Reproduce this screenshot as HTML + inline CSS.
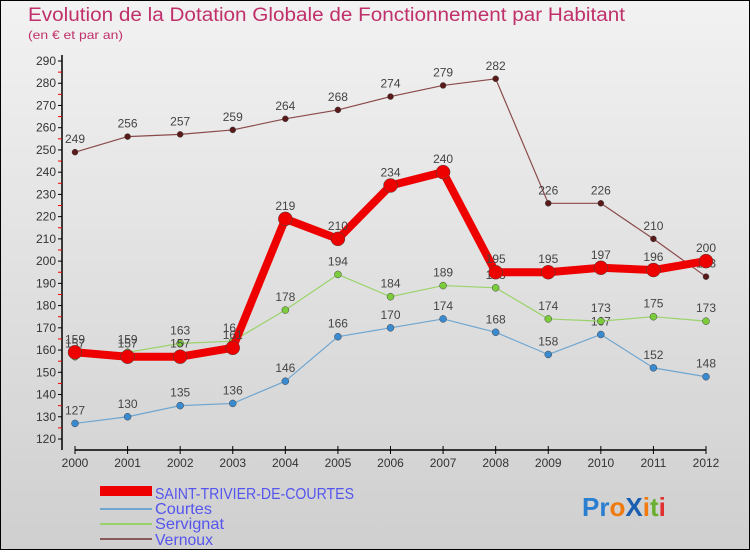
<!DOCTYPE html>
<html><head><meta charset="utf-8"><style>
body{margin:0;width:750px;height:550px;overflow:hidden;font-family:"Liberation Sans",sans-serif}
</style></head><body>
<svg width="750" height="550" xmlns="http://www.w3.org/2000/svg" id="svg">
<defs><linearGradient id="bg" x1="0" y1="0" x2="0" y2="1"><stop offset="0" stop-color="#f2f2f2"/><stop offset="1" stop-color="#cfcfcf"/></linearGradient></defs>
<rect x="0.5" y="0.5" width="749" height="549" fill="url(#bg)" stroke="#000"/>
<text x="28" y="21" font-size="19" fill="#c0306a" textLength="597" lengthAdjust="spacingAndGlyphs">Evolution de la Dotation Globale de Fonctionnement par Habitant</text>
<text x="28" y="39" font-size="12" fill="#c0306a" textLength="95" lengthAdjust="spacingAndGlyphs">(en € et par an)</text>
<g id="plot"></g>
<g>
<rect x="100" y="486" width="52" height="10" fill="#e00"/>
<line x1="100" y1="509" x2="152" y2="509" stroke="#6fa6d0" stroke-width="2"/>
<line x1="100" y1="524" x2="152" y2="524" stroke="#9ad36a" stroke-width="2"/>
<line x1="100" y1="539" x2="152" y2="539" stroke="#8a5a5a" stroke-width="2"/>
<text x="155" y="499" font-size="16" fill="#5555ee" textLength="199" lengthAdjust="spacingAndGlyphs">SAINT-TRIVIER-DE-COURTES</text>
<text x="155" y="514" font-size="16" fill="#5555ee" textLength="57" lengthAdjust="spacingAndGlyphs">Courtes</text>
<text x="155" y="529" font-size="16" fill="#5555ee" textLength="69" lengthAdjust="spacingAndGlyphs">Servignat</text>
<text x="155" y="545" font-size="16" fill="#5555ee" textLength="58" lengthAdjust="spacingAndGlyphs">Vernoux</text>
</g>
<text x="582" y="516" font-size="26" font-weight="bold"><tspan fill="#2a7fd0">Pr</tspan><tspan fill="#f07a10">o</tspan><tspan fill="#1a5fb0">X</tspan><tspan fill="#f07a10">i</tspan><tspan fill="#6ab030">t</tspan><tspan fill="#e03030">i</tspan></text>
</svg>
<script>
const years=[2000,2001,2002,2003,2004,2005,2006,2007,2008,2009,2010,2011,2012];
const yTicks=[120,130,140,150,160,170,180,190,200,210,220,230,240,250,260,270,280,290];
const vernoux=[249,256,257,259,264,268,274,279,282,226,226,210,193];
const servignat=[157,159,163,164,178,194,184,189,188,174,173,175,173];
const courtes=[127,130,135,136,146,166,170,174,168,158,167,152,148];
const saint=[159,157,157,161,219,210,234,240,195,195,197,196,200];
const NS="http://www.w3.org/2000/svg";
const g=document.getElementById('plot');
const X=i=>75+i*(706-75)/(years.length-1);
const Y=v=>439-(v-120)*(439-61)/170;
function mk(t,a){const e=document.createElementNS(NS,t);for(const k in a)e.setAttribute(k,a[k]);g.appendChild(e);return e;}
let e=mk('line',{x1:62,y1:55,x2:62,y2:450,stroke:'#000','stroke-width':1.5});


e=mk('line',{x1:75,y1:450,x2:706,y2:450,stroke:'#000','stroke-width':1.5});


yTicks.forEach(v=>{
 mk('line',{x1:58,y1:Y(v),x2:62,y2:Y(v),stroke:'#000'});
 if(v<290)mk('line',{x1:58,y1:Y(v+5),x2:62,y2:Y(v+5),stroke:'#e00'});
 const t=mk('text',{x:56,y:Y(v)+4,'font-size':12,'text-anchor':'end',fill:'#333'});
 t.textContent=v;
 
 
});
years.forEach((yr,i)=>{
 mk('line',{x1:X(i),y1:446,x2:X(i),y2:454,stroke:'#000'});
 const t=mk('text',{x:X(i),y:467,'font-size':12,'text-anchor':'middle',fill:'#333'});
 t.textContent=yr;
 
 
});
function series(vals,name,col,dot,w,r){
 const p=mk('polyline',{points:vals.map((v,i)=>X(i)+','+Y(v)).join(' '),fill:'none',stroke:col,'stroke-width':w,'stroke-linejoin':'round'});
 
 
 vals.forEach((v,i)=>{
  const c=mk('circle',{cx:X(i),cy:Y(v),r:r,fill:dot,stroke:'#444','stroke-width':0.5});
  
  
  const t=mk('text',{x:X(i),y:Y(v)-9,'font-size':12,'text-anchor':'middle',fill:'#444'});
  t.textContent=v;
  
  
 });
}
series(vernoux,'vernoux','#8a4a4a','#5a1a1a',1.2,3);
series(courtes,'courtes','#6fa6d0','#3a8ad0',1.2,3.5);
series(servignat,'servignat','#9ad36a','#7acc3a',1.2,3.5);
series(saint,'saint-trivier','#ee0000','#ee0000',8,7);
</script>
</body></html>
